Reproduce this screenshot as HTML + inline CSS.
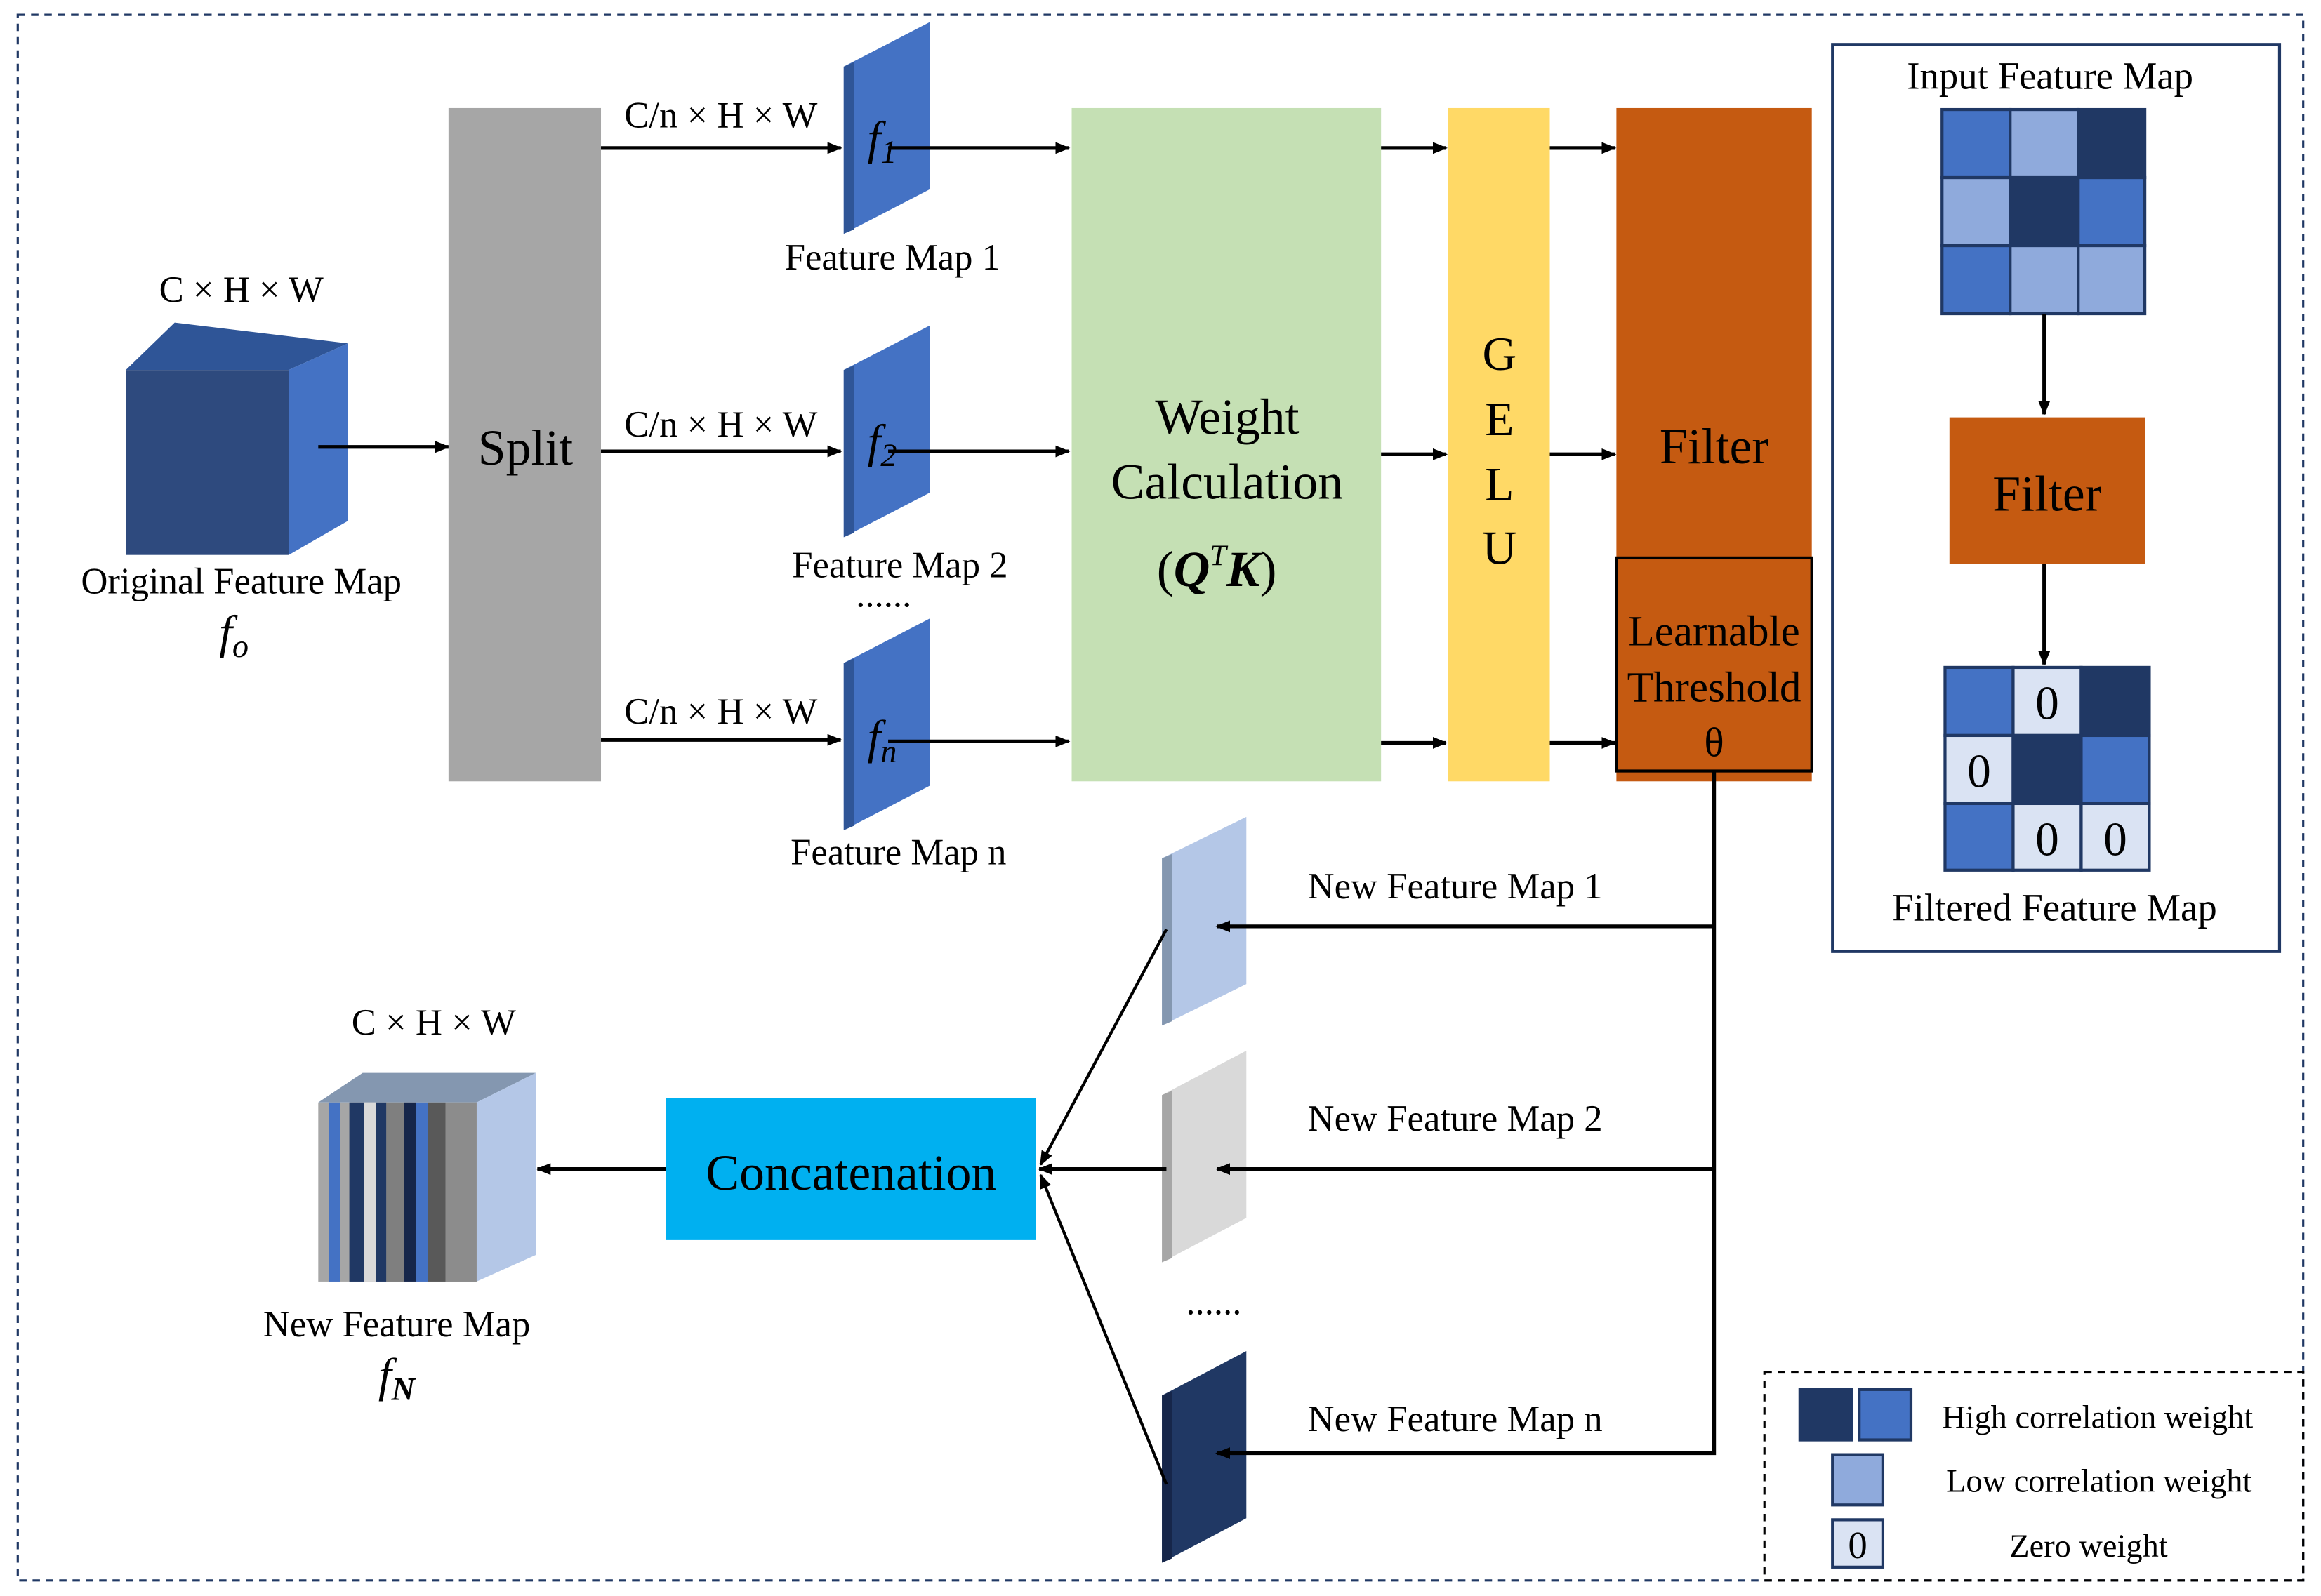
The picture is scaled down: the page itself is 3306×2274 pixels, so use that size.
<!DOCTYPE html>
<html><head><meta charset="utf-8"><style>
html,body{margin:0;padding:0;background:#fff}
svg{display:block}
text{font-family:"Liberation Serif",serif;fill:#000}
</style></head><body>
<svg width="3306" height="2274" viewBox="0 0 1568 1078.5" xmlns="http://www.w3.org/2000/svg">
<defs>
<marker id="a" markerWidth="10" markerHeight="8" refX="9" refY="4" orient="auto" markerUnits="userSpaceOnUse"><path d="M0,0 L10,4 L0,8 Z" fill="#000"/></marker>
</defs>
<rect x="12" y="10" width="1544" height="1058" fill="none" stroke="#203864" stroke-width="1.5" stroke-dasharray="5,4"/>

<polygon points="85,250 118,218 235,232 195,250" fill="#2F5597"/>
<polygon points="195,250 235,232 235,352 195,375" fill="#4472C4"/>
<rect x="85" y="250" width="110" height="125" fill="#2E4A7E"/>
<text x="163" y="204" font-size="25" text-anchor="middle">C × H × W</text>
<text x="163" y="401" font-size="25" text-anchor="middle">Original Feature Map</text>
<text x="158" y="438" font-size="32" font-style="italic" text-anchor="middle">f<tspan font-size="22" dy="6">o</tspan></text>
<line x1="215" y1="302" x2="303" y2="302" stroke="#000" stroke-width="2.5" marker-end="url(#a)"/>

<rect x="303" y="73" width="103" height="455" fill="#A6A6A6"/>
<text x="355" y="314" font-size="34" text-anchor="middle">Split</text>

<g stroke="#000" stroke-width="2.5">
<line x1="406" y1="100" x2="568" y2="100" marker-end="url(#a)"/>
<line x1="406" y1="305" x2="568" y2="305" marker-end="url(#a)"/>
<line x1="406" y1="500" x2="568" y2="500" marker-end="url(#a)"/>
</g>
<text x="487" y="86" font-size="25" text-anchor="middle">C/n × H × W</text>
<text x="487" y="295" font-size="25" text-anchor="middle">C/n × H × W</text>
<text x="487" y="489" font-size="25" text-anchor="middle">C/n × H × W</text>

<g>
<polygon points="570,45 628,15 628,128 570,158" fill="#4472C4"/>
<polygon points="570,45 577,42 577,155 570,158" fill="#2F5597"/>
<polygon points="570,250 628,220 628,333 570,363" fill="#4472C4"/>
<polygon points="570,250 577,247 577,360 570,363" fill="#2F5597"/>
<polygon points="570,448 628,418 628,531 570,561" fill="#4472C4"/>
<polygon points="570,448 577,445 577,558 570,561" fill="#2F5597"/>
</g>
<text x="586" y="104" font-size="32" font-style="italic">f<tspan font-size="22" dy="6">1</tspan></text>
<text x="586" y="309" font-size="32" font-style="italic">f<tspan font-size="22" dy="6">2</tspan></text>
<text x="586" y="509" font-size="32" font-style="italic">f<tspan font-size="22" dy="6">n</tspan></text>
<text x="603" y="182" font-size="25" text-anchor="middle">Feature Map 1</text>
<text x="608" y="390" font-size="25" text-anchor="middle">Feature Map 2</text>
<text x="597" y="410" font-size="25" text-anchor="middle">......</text>
<text x="607" y="584" font-size="25" text-anchor="middle">Feature Map n</text>

<g stroke="#000" stroke-width="2.5">
<line x1="600" y1="100" x2="722" y2="100" marker-end="url(#a)"/>
<line x1="600" y1="305" x2="722" y2="305" marker-end="url(#a)"/>
<line x1="600" y1="501" x2="722" y2="501" marker-end="url(#a)"/>
</g>

<rect x="724" y="73" width="209" height="455" fill="#C5E0B4"/>
<text x="829" y="293" font-size="34" text-anchor="middle">Weight</text>
<text x="829" y="337" font-size="34" text-anchor="middle">Calculation</text>
<text x="822" y="396" font-size="34" text-anchor="middle">(<tspan font-weight="bold" font-style="italic">Q</tspan><tspan font-size="20" dy="-14" font-style="italic">T</tspan><tspan dy="14" font-weight="bold" font-style="italic">K</tspan>)</text>

<g stroke="#000" stroke-width="2.5">
<line x1="933" y1="100" x2="977" y2="100" marker-end="url(#a)"/>
<line x1="933" y1="307" x2="977" y2="307" marker-end="url(#a)"/>
<line x1="933" y1="502" x2="977" y2="502" marker-end="url(#a)"/>
<line x1="1047" y1="100" x2="1091" y2="100" marker-end="url(#a)"/>
<line x1="1047" y1="307" x2="1091" y2="307" marker-end="url(#a)"/>
<line x1="1047" y1="502" x2="1091" y2="502" marker-end="url(#a)"/>
</g>
<rect x="978" y="73" width="69" height="455" fill="#FFD966"/>
<g font-size="32" text-anchor="middle">
<text x="1013" y="250">G</text><text x="1013" y="294">E</text><text x="1013" y="338">L</text><text x="1013" y="381">U</text>
</g>

<rect x="1092" y="73" width="132" height="455" fill="#C55A11"/>
<text x="1158" y="313" font-size="34" text-anchor="middle">Filter</text>
<rect x="1092" y="377" width="132" height="144" fill="none" stroke="#000" stroke-width="2"/>
<text x="1158" y="436" font-size="29" text-anchor="middle">Learnable</text>
<text x="1158" y="474" font-size="29" text-anchor="middle">Threshold</text>
<text x="1158" y="511" font-size="28" text-anchor="middle">θ</text>

<rect x="1238" y="30" width="302" height="613" fill="#fff" stroke="#203864" stroke-width="2"/>
<text x="1385" y="60" font-size="26" text-anchor="middle">Input Feature Map</text>
<g stroke="#203864" stroke-width="2">
<rect x="1312" y="74" width="46" height="46" fill="#4472C4"/><rect x="1358" y="74" width="46" height="46" fill="#8FAADC"/><rect x="1404" y="74" width="45" height="46" fill="#203864"/>
<rect x="1312" y="120" width="46" height="46" fill="#8FAADC"/><rect x="1358" y="120" width="46" height="46" fill="#203864"/><rect x="1404" y="120" width="45" height="46" fill="#4472C4"/>
<rect x="1312" y="166" width="46" height="46" fill="#4472C4"/><rect x="1358" y="166" width="46" height="46" fill="#8FAADC"/><rect x="1404" y="166" width="45" height="46" fill="#8FAADC"/>
</g>
<line x1="1381" y1="212" x2="1381" y2="280" stroke="#000" stroke-width="2.5" marker-end="url(#a)"/>
<rect x="1317" y="282" width="132" height="99" fill="#C55A11"/>
<text x="1383" y="345" font-size="34" text-anchor="middle">Filter</text>
<line x1="1381" y1="381" x2="1381" y2="449" stroke="#000" stroke-width="2.5" marker-end="url(#a)"/>
<g stroke="#203864" stroke-width="2">
<rect x="1314" y="451" width="46" height="46" fill="#4472C4"/><rect x="1360" y="451" width="46" height="46" fill="#DAE3F3"/><rect x="1406" y="451" width="46" height="46" fill="#203864"/>
<rect x="1314" y="497" width="46" height="46" fill="#DAE3F3"/><rect x="1360" y="497" width="46" height="46" fill="#203864"/><rect x="1406" y="497" width="46" height="46" fill="#4472C4"/>
<rect x="1314" y="543" width="46" height="45" fill="#4472C4"/><rect x="1360" y="543" width="46" height="45" fill="#DAE3F3"/><rect x="1406" y="543" width="46" height="45" fill="#DAE3F3"/>
</g>
<g font-size="32" text-anchor="middle">
<text x="1383" y="486">0</text><text x="1337" y="532">0</text><text x="1383" y="578">0</text><text x="1429" y="578">0</text>
</g>
<text x="1388" y="622" font-size="26" text-anchor="middle">Filtered Feature Map</text>

<polygon points="785,580 842,552 842,665 785,693" fill="#B4C7E7"/>
<polygon points="785,580 792,577 792,690 785,693" fill="#8497B0"/>
<polygon points="785,740 842,710 842,823 785,853" fill="#D9D9D9"/>
<polygon points="785,740 792,737 792,850 785,853" fill="#A6A6A6"/>
<polygon points="785,943 842,913 842,1026 785,1056" fill="#203864"/>
<polygon points="785,943 792,940 792,1053 785,1056" fill="#16264A"/>
<text x="983" y="607" font-size="25" text-anchor="middle">New Feature Map 1</text>
<text x="983" y="764" font-size="25" text-anchor="middle">New Feature Map 2</text>
<text x="820" y="888" font-size="25" text-anchor="middle">......</text>
<text x="983" y="967" font-size="25" text-anchor="middle">New Feature Map n</text>

<g stroke="#000" stroke-width="2.5" fill="none">
<polyline points="1158,521 1158,982 822,982" marker-end="url(#a)"/>
<line x1="1158" y1="626" x2="822" y2="626" marker-end="url(#a)"/>
<line x1="1158" y1="790" x2="822" y2="790" marker-end="url(#a)"/>
</g>

<g stroke="#000" stroke-width="2" fill="none">
<line x1="788" y1="628" x2="703" y2="787" marker-end="url(#a)"/>
<line x1="788" y1="790" x2="702" y2="790" marker-end="url(#a)" stroke-width="2.5"/>
<line x1="788" y1="1003" x2="703" y2="794" marker-end="url(#a)"/>
</g>
<rect x="450" y="742" width="250" height="96" fill="#00B0F0"/>
<text x="575" y="804" font-size="34" text-anchor="middle">Concatenation</text>
<line x1="450" y1="790" x2="363" y2="790" stroke="#000" stroke-width="2.5" marker-end="url(#a)"/>

<polygon points="215,745 245,725 362,725 322,745" fill="#8497B0"/>
<polygon points="322,745 362,725 362,848 322,866" fill="#B4C7E7"/>
<rect x="215" y="745" width="107" height="121" fill="#A6A6A6"/>
<rect x="222" y="745" width="8" height="121" fill="#4472C4"/>
<rect x="236" y="745" width="10" height="121" fill="#203864"/>
<rect x="246" y="745" width="8" height="121" fill="#D9D9D9"/>
<rect x="254" y="745" width="7" height="121" fill="#203864"/>
<rect x="261" y="745" width="12" height="121" fill="#7F7F7F"/>
<rect x="273" y="745" width="8" height="121" fill="#16264A"/>
<rect x="281" y="745" width="8" height="121" fill="#4472C4"/>
<rect x="289" y="745" width="12" height="121" fill="#595959"/>
<rect x="301" y="745" width="21" height="121" fill="#8C8C8C"/>
<text x="293" y="699" font-size="25" text-anchor="middle">C × H × W</text>
<text x="268" y="903" font-size="25" text-anchor="middle">New Feature Map</text>
<text x="268" y="940" font-size="32" font-style="italic" text-anchor="middle">f<tspan font-size="22" dy="6" font-weight="bold">N</tspan></text>

<rect x="1192" y="927" width="364" height="141" fill="none" stroke="#000" stroke-width="1.5" stroke-dasharray="5,4"/>
<g stroke="#203864" stroke-width="2">
<rect x="1216" y="939" width="35" height="34" fill="#203864"/>
<rect x="1256" y="939" width="35" height="34" fill="#4472C4"/>
<rect x="1238" y="983" width="34" height="34" fill="#8FAADC"/>
<rect x="1238" y="1027" width="34" height="32" fill="#DAE3F3"/>
</g>
<text x="1255" y="1053" font-size="26" text-anchor="middle">0</text>
<text x="1417" y="965" font-size="22" text-anchor="middle">High correlation weight</text>
<text x="1418" y="1008" font-size="22" text-anchor="middle">Low correlation weight</text>
<text x="1411" y="1052" font-size="22" text-anchor="middle">Zero weight</text>
</svg>
</body></html>
